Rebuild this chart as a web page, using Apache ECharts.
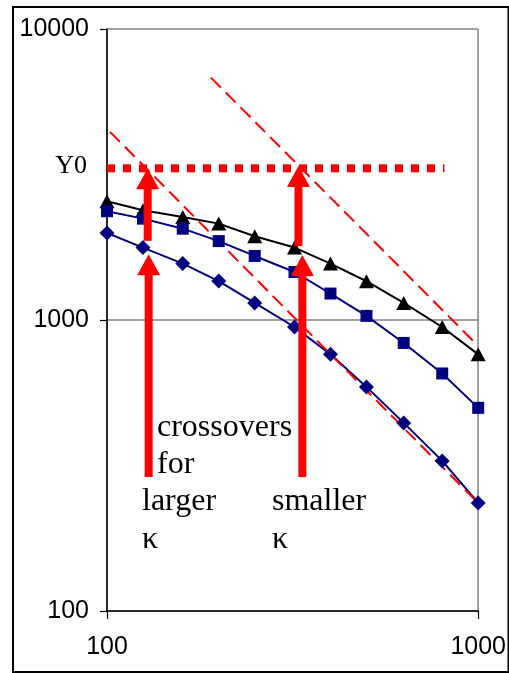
<!DOCTYPE html>
<html>
<head>
<meta charset="utf-8">
<script src="https://cdn.jsdelivr.net/npm/echarts@6/dist/echarts.min.js"></script>
<style>
html,body{margin:0;padding:0;background:#fff;}
#chart{width:509px;height:673px;}
</style>
</head>
<body>
<div id="chart"></div>
<script>
// ---- data ----
const xValues = [100, 125, 160, 200, 250, 320, 400, 500, 630, 800, 1000];
const triangleSeries = [2558, 2383, 2259, 2144, 1940, 1774, 1563, 1359, 1145, 946, 762];
const squareSeries = [2364, 2230, 2060, 1867, 1660, 1462, 1233, 1033, 834, 655, 499];
const diamondSeries = [1991, 1774, 1563, 1361, 1145, 946, 762, 589, 443, 328, 235];

const y0Value = 3320;
const y0XRange = [100, 811];

const dashedLine1X = [101.9, 990];
const dashedLine1Y = [4430, 238];
const dashedLine2X = [190.5, 990];
const dashedLine2Y = [6808, 825];

const arrowX = [128.7, 129.5, 328, 336];
const arrowTail = [1871, 289, 1794, 289];
const arrowTip = [3320, 1684, 3380, 1671];

const xTicks = [100, 1000];
const yTicks = [100, 1000, 10000];

const pairs = (xs, ys) => xs.map((x, i) => [x, ys[i]]);

const chart = echarts.init(document.getElementById('chart'), null, {renderer: 'canvas'});

const sansFont = '"Liberation Sans", Arial, sans-serif';
const serifFont = '"Liberation Serif", "Times New Roman", serif';

const option = {
  backgroundColor: '#ffffff',
  animation: false,
  grid: {left: 107, top: 29, right: 28, bottom: 62, containLabel: false},
  xAxis: {
    type: 'log', logBase: 10, min: 100, max: 1000,
    axisLine: {show: true, onZero: false, lineStyle: {color: '#000', width: 1.5}},
    axisTick: {show: true, length: 8, lineStyle: {color: '#000', width: 1.2}},
    minorTick: {show: false},
    splitLine: {show: true, lineStyle: {color: '#808080', width: 1.5}},
    axisLabel: {
      color: '#000', fontFamily: sansFont, fontSize: 25, margin: 24,
      formatter: v => String(Math.round(v)),
      showMinLabel: true, showMaxLabel: true
    }
  },
  yAxis: {
    type: 'log', logBase: 10, min: 100, max: 10000,
    axisLine: {show: true, onZero: false, lineStyle: {color: '#000', width: 1.5}},
    axisTick: {show: true, length: 7, lineStyle: {color: '#000', width: 1.2}},
    splitLine: {show: true, lineStyle: {color: '#808080', width: 1.5}},
    axisLabel: {
      color: '#000', fontFamily: sansFont, fontSize: 25, margin: 18,
      formatter: v => String(Math.round(v)),
      showMinLabel: true, showMaxLabel: true
    }
  },
  series: [
    // connecting lines
    {type: 'line', data: pairs(xValues, triangleSeries), symbol: 'none', z: 2,
     lineStyle: {color: '#000000', width: 2}},
    {type: 'line', data: pairs(xValues, squareSeries), symbol: 'none', z: 2,
     lineStyle: {color: '#000080', width: 2}},
    {type: 'line', data: pairs(xValues, diamondSeries), symbol: 'none', z: 2,
     lineStyle: {color: '#000080', width: 2}},
    // Y0 dotted line
    {type: 'line', data: [[y0XRange[0], y0Value], [y0XRange[1], y0Value]], symbol: 'none', z: 3,
     lineStyle: {color: '#ff0000', width: 8, type: [8, 8], cap: 'butt'}},
    // dashed red reference lines
    {type: 'line', data: pairs(dashedLine1X, dashedLine1Y), symbol: 'none', z: 3,
     lineStyle: {color: '#ff0000', width: 2, type: [14, 7]}},
    {type: 'line', data: pairs(dashedLine2X, dashedLine2Y), symbol: 'none', z: 3,
     lineStyle: {color: '#ff0000', width: 2, type: [14, 7]}},
    // markers
    {type: 'scatter', data: pairs(xValues, triangleSeries), symbol: 'triangle', symbolSize: [15, 14], z: 4,
     itemStyle: {color: '#000000', opacity: 1}},
    {type: 'scatter', data: pairs(xValues, squareSeries), symbol: 'rect', symbolSize: 12, z: 4,
     itemStyle: {color: '#000080', opacity: 1}},
    {type: 'scatter', data: pairs(xValues, diamondSeries), symbol: 'diamond', symbolSize: 15, z: 4,
     itemStyle: {color: '#000080', opacity: 1}},
    // arrows
    {type: 'custom', z: 5, clip: false,
     data: arrowX.map((x, i) => [x, arrowTail[i], arrowTip[i]]),
     encode: {x: 0, y: [1, 2]},
     renderItem: function (params, api) {
       const x = api.value(0), tail = api.value(1), tip = api.value(2);
       const pTail = api.coord([x, tail]);
       const pTip = api.coord([x, tip]);
       const headLen = 21, headW = 23, shaftW = 8;
       return {
         type: 'group',
         children: [
           {type: 'rect', shape: {x: pTail[0] - shaftW / 2, y: pTip[1] + headLen - 1, width: shaftW,
             height: pTail[1] - pTip[1] - headLen + 1}, style: {fill: '#ff0000'}},
           {type: 'polygon', shape: {points: [[pTip[0], pTip[1]], [pTip[0] - headW / 2, pTip[1] + headLen],
             [pTip[0] + headW / 2, pTip[1] + headLen]]}, style: {fill: '#ff0000'}}
         ]
       };
     }}
  ],
  graphic: [
    {type: 'rect', z: 100, shape: {x: 13, y: 7, width: 495.5, height: 665},
     style: {fill: 'none', stroke: '#000', lineWidth: 2}},
    {type: 'text', z: 50, x: 87, y: 166, style: {text: 'Y0', font: '26px ' + serifFont, fill: '#000',
      textAlign: 'right', textVerticalAlign: 'middle'}},
    {type: 'text', z: 50, x: 157, y: 428, style: {text: 'crossovers', font: '32px ' + serifFont, fill: '#000',
      textAlign: 'left', textVerticalAlign: 'middle'}},
    {type: 'text', z: 50, x: 157, y: 465, style: {text: 'for', font: '32px ' + serifFont, fill: '#000',
      textAlign: 'left', textVerticalAlign: 'middle'}},
    {type: 'text', z: 50, x: 142, y: 502, style: {text: 'larger', font: '32px ' + serifFont, fill: '#000',
      textAlign: 'left', textVerticalAlign: 'middle'}},
    {type: 'text', z: 50, x: 142, y: 540, style: {text: 'κ', font: '32px ' + serifFont, fill: '#000',
      textAlign: 'left', textVerticalAlign: 'middle'}},
    {type: 'text', z: 50, x: 272, y: 502, style: {text: 'smaller', font: '32px ' + serifFont, fill: '#000',
      textAlign: 'left', textVerticalAlign: 'middle'}},
    {type: 'text', z: 50, x: 272, y: 540, style: {text: 'κ', font: '32px ' + serifFont, fill: '#000',
      textAlign: 'left', textVerticalAlign: 'middle'}}
  ]
};
chart.setOption(option);
</script>
</body>
</html>
